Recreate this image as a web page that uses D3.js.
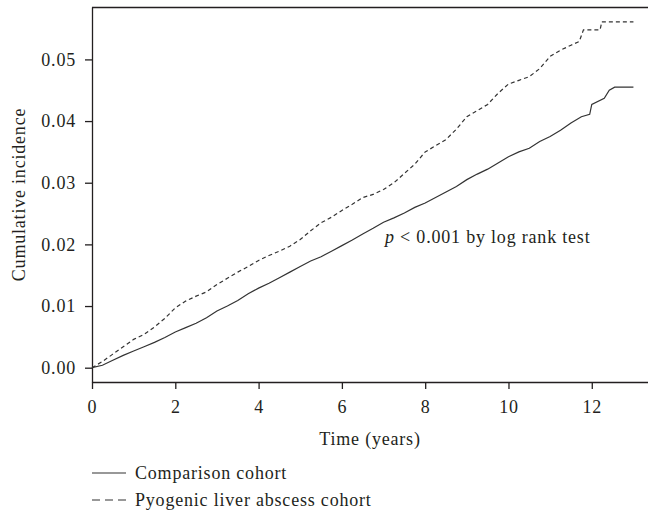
<!DOCTYPE html>
<html>
<head>
<meta charset="utf-8">
<script src="https://cdn.jsdelivr.net/npm/d3@7"></script>
<style>
  body { margin: 0; background: #fff; }
  text { font-family: "Liberation Serif", "Times New Roman", serif; fill: #231f20; }
</style>
</head>
<body>
<div id="chart"></div>
<script>
// cumulative incidence (years, proportion)
var compTime = [0, 0.25, 0.5, 0.75, 1, 1.25, 1.5, 1.75, 2, 2.25, 2.5, 2.75, 3, 3.25, 3.5, 3.75, 4, 4.25, 4.5, 4.75,
  5, 5.25, 5.5, 5.75, 6, 6.25, 6.5, 6.75, 7, 7.25, 7.5, 7.75, 8, 8.25, 8.5, 8.75, 9, 9.25, 9.5, 9.75,
  10, 10.25, 10.5, 10.75, 11, 11.25, 11.5, 11.75, 11.95, 12.0, 12.3, 12.42, 12.55, 13];
var compValue = [0, 0.0004, 0.0012, 0.0020, 0.0027, 0.0034, 0.0041, 0.0049, 0.0058, 0.0065, 0.0072, 0.0081, 0.0092, 0.0100, 0.0109, 0.0120, 0.0129, 0.0137, 0.0146, 0.0155,
  0.0164, 0.0173, 0.0180, 0.0189, 0.0198, 0.0207, 0.0217, 0.0226, 0.0236, 0.0243, 0.0251, 0.0260, 0.0267, 0.0276, 0.0285, 0.0294, 0.0305, 0.0314, 0.0322, 0.0332,
  0.0342, 0.0350, 0.0356, 0.0367, 0.0375, 0.0385, 0.0397, 0.0407, 0.0411, 0.0427, 0.0437, 0.0450, 0.0455, 0.0455];

var plaTime = [0, 0.25, 0.5, 0.75, 1, 1.25, 1.5, 1.75, 2, 2.25, 2.5, 2.75, 3, 3.25, 3.5, 3.75, 4, 4.25, 4.5, 4.75,
  5, 5.25, 5.5, 5.75, 6, 6.25, 6.5, 6.75, 7, 7.25, 7.5, 7.75, 8, 8.25, 8.5, 8.75, 9, 9.25, 9.5, 9.75,
  10, 10.25, 10.5, 10.75, 11, 11.25, 11.5, 11.7, 11.8, 12.2, 12.24, 13];
var plaValue = [0, 0.0010, 0.0022, 0.0034, 0.0046, 0.0054, 0.0066, 0.0080, 0.0097, 0.0108, 0.0116, 0.0123, 0.0135, 0.0145, 0.0155, 0.0164, 0.0174, 0.0182, 0.0189, 0.0197,
  0.0208, 0.0222, 0.0235, 0.0244, 0.0255, 0.0265, 0.0276, 0.0281, 0.0289, 0.0300, 0.0315, 0.0330, 0.0350, 0.0360, 0.0370, 0.0387, 0.0407, 0.0417, 0.0427, 0.0445,
  0.0460, 0.0466, 0.0472, 0.0485, 0.0505, 0.0515, 0.0523, 0.0529, 0.0548, 0.0548, 0.0561, 0.0561];

var xTicks = [0, 2, 4, 6, 8, 10, 12];
var yTicks = [0, 0.01, 0.02, 0.03, 0.04, 0.05];
var seriesNames = ["Comparison cohort", "Pyogenic liver abscess cohort"];

var W = 648, H = 510;
var pLeft = 92, pRight = 648, pTop = 7, pBottom = 382;
var ink = "#231f20";
var fs = 18;

var svg = d3.select("#chart").append("svg").attr("width", W).attr("height", H);

var x = d3.scaleLinear().domain([0, 13.35]).range([pLeft, pRight]);
var y = d3.scaleLinear().domain([-0.00232, 0.0585]).range([pBottom, pTop]);

// frame top line
svg.append("line").attr("x1", pLeft).attr("x2", pRight).attr("y1", pTop + 0.5).attr("y2", pTop + 0.5)
  .attr("stroke", ink).attr("stroke-width", 1.3);

var xAxis = svg.append("g").attr("transform", "translate(0," + pBottom + ")")
  .call(d3.axisBottom(x).tickValues(xTicks).tickSize(7).tickSizeOuter(0).tickPadding(11).tickFormat(d3.format("d")));
var yAxis = svg.append("g").attr("transform", "translate(" + pLeft + ",0)")
  .call(d3.axisLeft(y).tickValues(yTicks).tickSize(7).tickSizeOuter(0).tickPadding(9).tickFormat(d3.format(".2f")));

[xAxis, yAxis].forEach(function(g){
  g.select(".domain").attr("stroke", ink).attr("stroke-width", 1.3);
  g.selectAll(".tick line").attr("stroke", ink).attr("stroke-width", 1.3);
  g.selectAll(".tick text").attr("font-family", "Liberation Serif").attr("font-size", fs)
    .attr("fill", ink).style("letter-spacing", "0.8px");
});

// curves
var line = d3.line()
  .x(function(d){ return x(d[0]); })
  .y(function(d){ return y(d[1]); });

var comp = compTime.map(function(t, i){ return [t, compValue[i]]; });
var pla = plaTime.map(function(t, i){ return [t, plaValue[i]]; });

svg.append("path").datum(comp).attr("d", line)
  .attr("fill", "none").attr("stroke", "#333").attr("stroke-width", 1.2);
svg.append("path").datum(pla).attr("d", line)
  .attr("fill", "none").attr("stroke", "#333").attr("stroke-width", 1.2).attr("stroke-dasharray", "4,3");

// axis titles
svg.append("text").attr("x", (pLeft + pRight) / 2).attr("y", 445).attr("text-anchor", "middle")
  .attr("font-size", fs).style("letter-spacing", "0.8px").text("Time (years)");
svg.append("text").attr("transform", "translate(25," + ((pTop + pBottom) / 2) + ") rotate(-90)")
  .attr("text-anchor", "middle").attr("font-size", fs).style("letter-spacing", "0.8px").text("Cumulative incidence");

// annotation
var ann = svg.append("text").attr("x", 385).attr("y", 243).attr("font-size", fs).style("letter-spacing", "0.8px");
ann.append("tspan").attr("font-style", "italic").text("p");
ann.append("tspan").text(" < 0.001 by log rank test");

// legend
var legY = [473, 500];
var legDash = [null, "8,5"];
seriesNames.forEach(function(name, i){
  svg.append("line").attr("x1", 92).attr("x2", 126).attr("y1", legY[i]).attr("y2", legY[i])
    .attr("stroke", "#333").attr("stroke-width", 1.2).attr("stroke-dasharray", legDash[i]);
  svg.append("text").attr("x", 135).attr("y", legY[i] + 6).attr("font-size", fs)
    .style("letter-spacing", "0.8px").text(name);
});
</script>
</body>
</html>
